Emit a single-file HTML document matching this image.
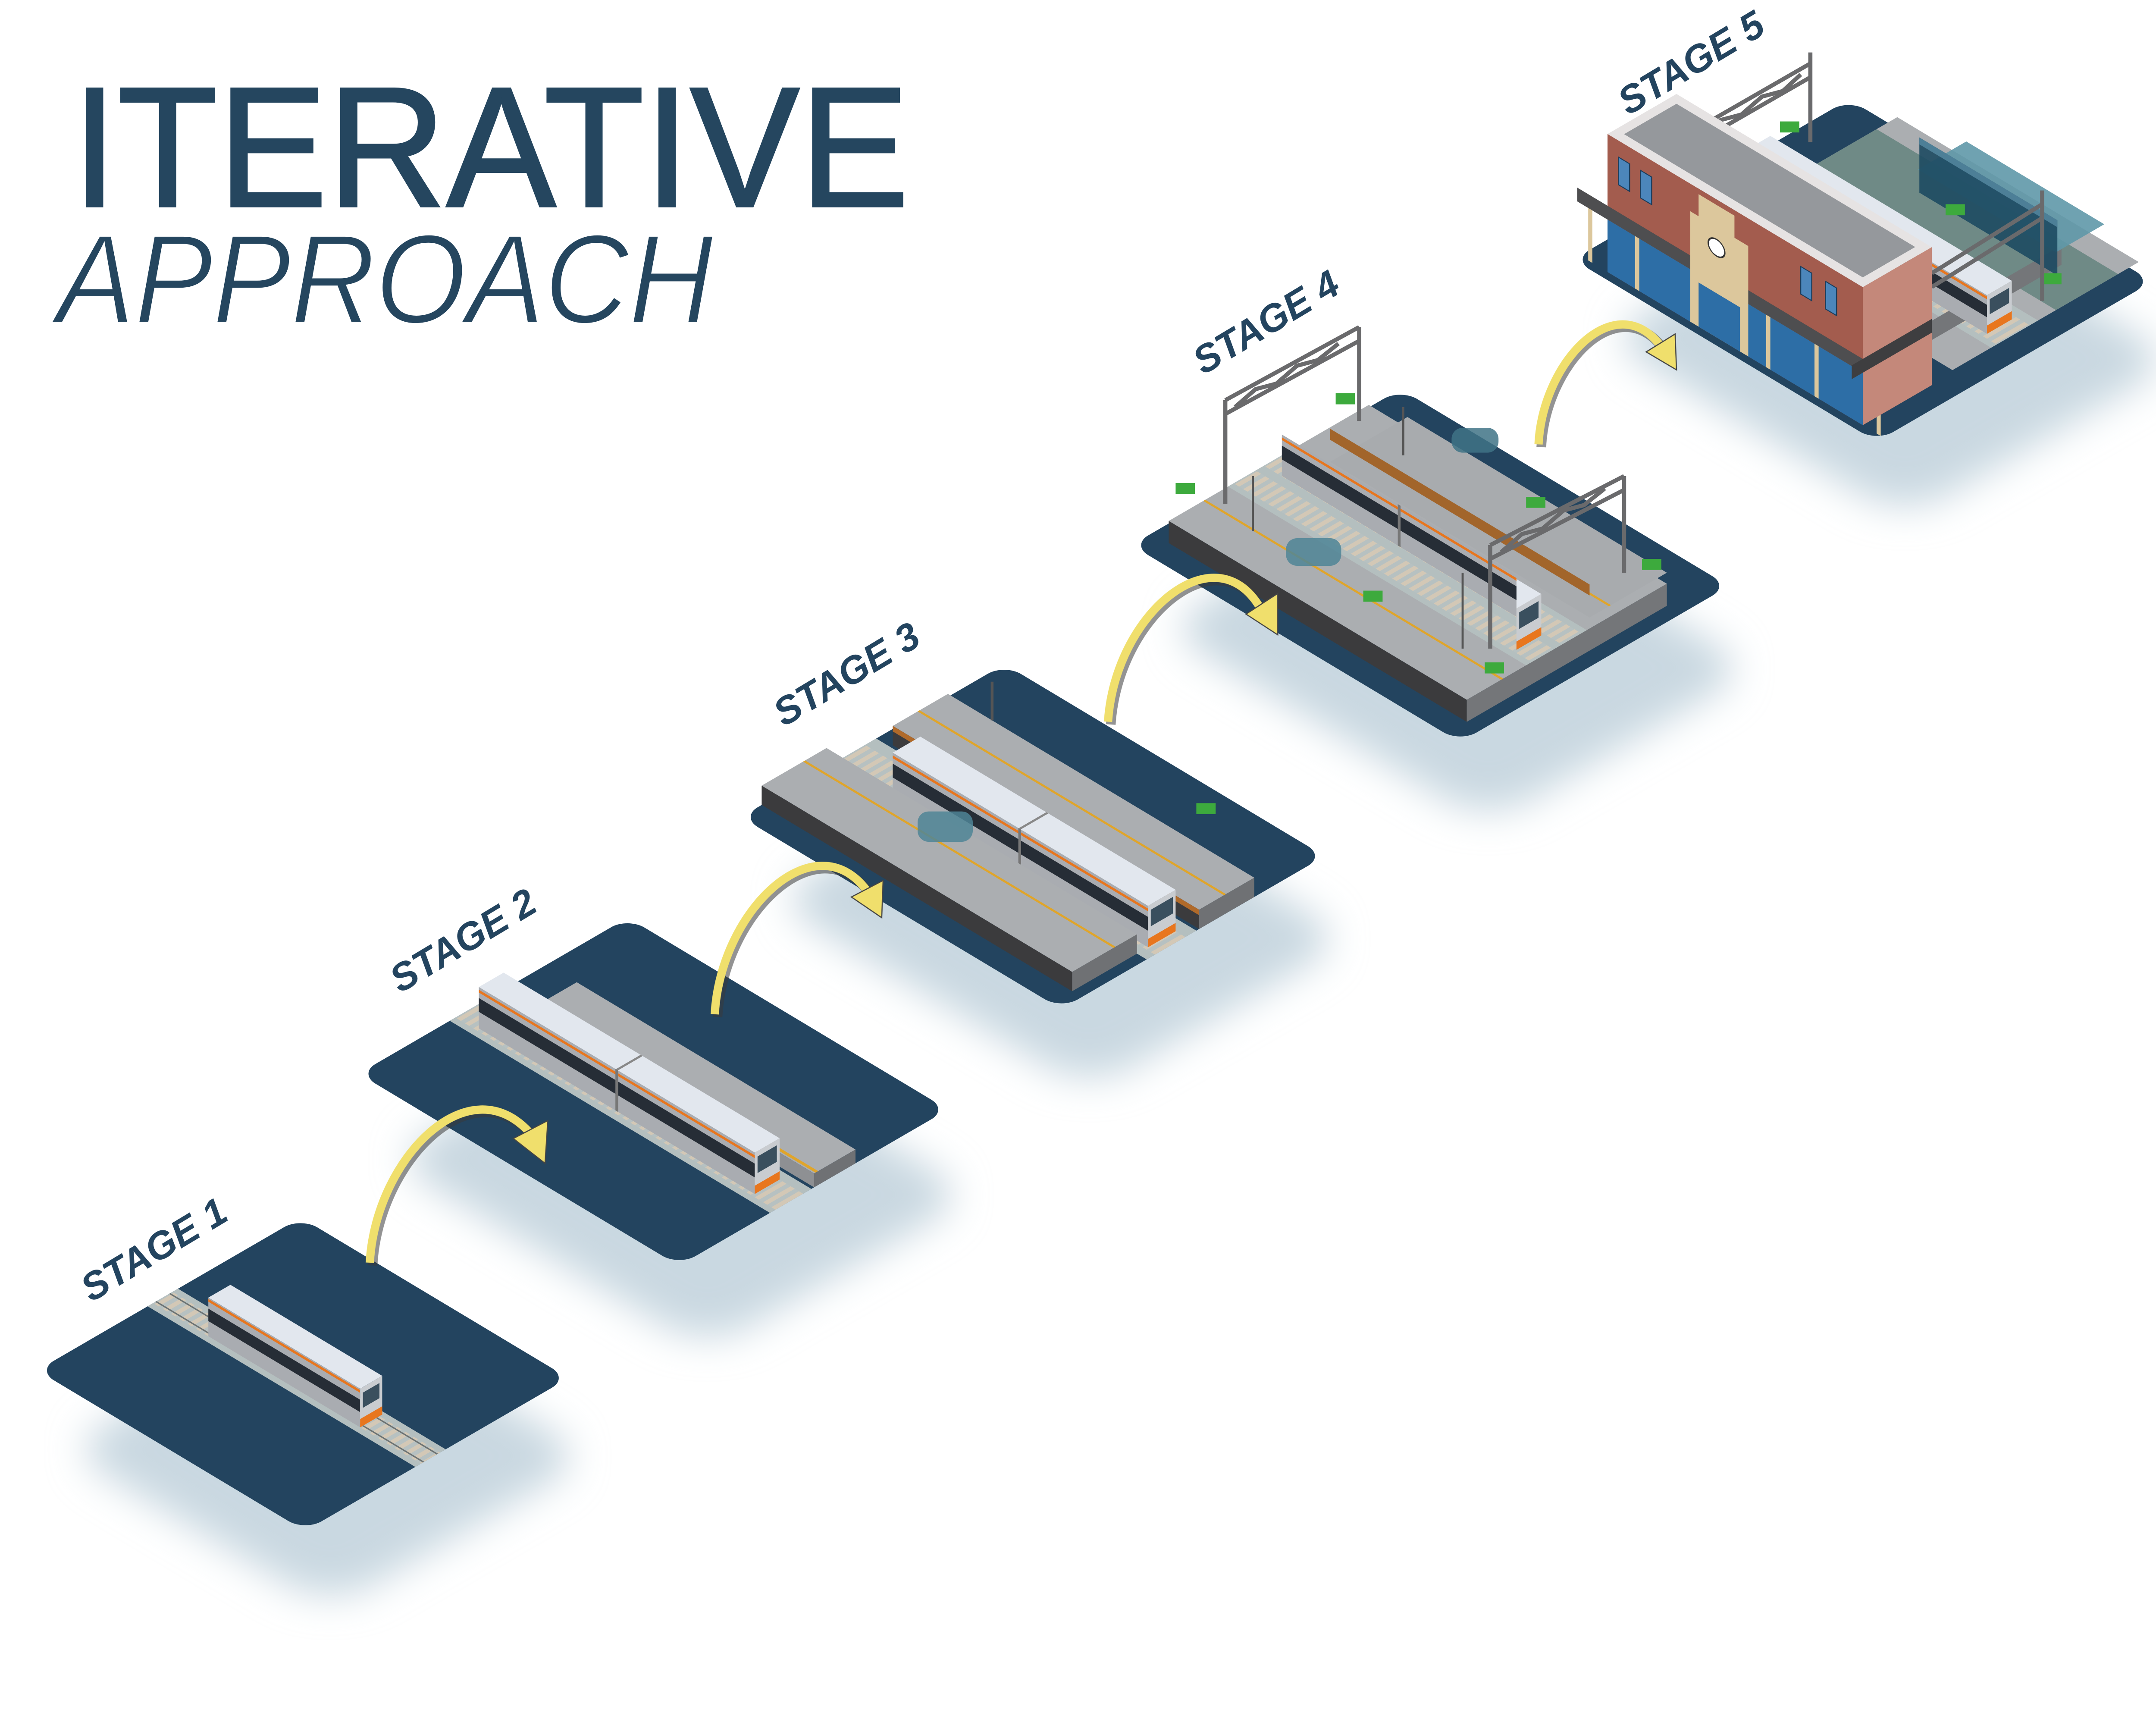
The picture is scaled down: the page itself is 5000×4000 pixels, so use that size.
<!DOCTYPE html>
<html><head><meta charset="utf-8"><style>html,body{margin:0;padding:0;background:#fff}svg{display:block}</style></head>
<body>
<svg xmlns="http://www.w3.org/2000/svg" width="5000" height="4000" viewBox="0 0 1562.5 1250">
<defs>
<filter id="bl" x="-50%" y="-50%" width="200%" height="200%"><feGaussianBlur stdDeviation="14"/></filter>
<pattern id="ties" width="6" height="10" patternUnits="userSpaceOnUse"><rect width="6" height="10" fill="#b7c1c1"/><rect x="1" width="3" height="10" fill="#d3c8b6"/></pattern>
</defs>
<rect width="1562.5" height="1250" fill="#fff"/>

<text x="52" y="149.5" font-family="Liberation Sans, sans-serif" font-size="124" fill="#25465f" textLength="607" lengthAdjust="spacingAndGlyphs" stroke="#25465f" stroke-width="1.5">ITERATIVE</text>
<text x="41" y="234" font-family="Liberation Sans, sans-serif" font-style="italic" font-size="92" fill="#25465f" textLength="476" lengthAdjust="spacingAndGlyphs" stroke="#fff" stroke-width="1.6">APPROACH</text>

<g fill="#c9d8e1" filter="url(#bl)">
<g transform="translate(45,1050) matrix(1,.6,1,-.58,0,0)"><rect width="194" height="191" rx="30"/></g>
<g transform="translate(280,840) matrix(1,.6,1,-.58,0,0)"><rect width="232" height="195" rx="30"/></g>
<g transform="translate(557,652) matrix(1,.6,1,-.58,0,0)"><rect width="232" height="191" rx="30"/></g>
<g transform="translate(840,455) matrix(1,.6,1,-.58,0,0)"><rect width="238" height="195" rx="30"/></g>
<g transform="translate(1160,245) matrix(1,.6,1,-.58,0,0)"><rect width="220" height="200" rx="30"/></g>
</g>

<!-- STAGE 1 -->
<g transform="translate(27,993)">
<g transform="matrix(1,.6,1,-.58,0,0)"><rect width="194" height="191" rx="12" fill="#23445f"/>
<rect x="0" y="80" width="194" height="22" fill="#b4bfbf"/><rect x="0" y="84" width="194" height="14" fill="url(#ties)"/>
<line x1="0" y1="86" x2="194" y2="86" stroke="#6d7373" stroke-width="1"/><line x1="0" y1="96" x2="194" y2="96" stroke="#6d7373" stroke-width="1"/></g>
<g transform="translate(0,-28) matrix(1,.6,1,-.58,0,0)"><rect x="40" y="84" width="110" height="16" fill="#e2e7ee"/></g>
<g transform="translate(124,-24.7) matrix(1,.6,0,1,0,0)"><rect y="-28" width="110" height="28" fill="#a9acb1"/><rect y="-20" width="110" height="9" fill="#262d36"/><rect y="-27" width="110" height="2" fill="#e8761e"/></g>
<g transform="translate(234,41.3) matrix(1,-.58,0,1,0,0)"><rect y="-28" width="16" height="28" fill="#c9ccd0"/><rect x="2" y="-24" width="12" height="11" fill="#3a4f5e"/><rect y="-6" width="16" height="6" fill="#e8761e"/></g>
</g>
<text transform="translate(66,944) rotate(-31)" font-family="Liberation Sans, sans-serif" font-weight="bold" font-style="italic" font-size="28" fill="#23445f">STAGE 1</text>

<!-- STAGE 2 -->
<g transform="translate(260,778)">
<g transform="matrix(1,.6,1,-.58,0,0)"><rect width="232" height="195" rx="12" fill="#23445f"/>
<rect x="0" y="66" width="232" height="30" fill="#b4bfbf"/><rect x="0" y="70" width="232" height="20" fill="url(#ties)"/></g>
<g transform="translate(0,-10) matrix(1,.6,1,-.58,0,0)"><rect x="30" y="98" width="202" height="30" fill="#abaeb1"/><rect x="30" y="99" width="202" height="2" fill="#e0a52a"/></g>
<g transform="translate(128,-38.8) matrix(1,.6,0,1,0,0)"><rect y="-10" width="202" height="10" fill="#8e9093"/></g>
<g transform="translate(330,82.4) matrix(1,-.58,0,1,0,0)"><rect y="-10" width="30" height="10" fill="#6f7174"/></g>
<g transform="translate(0,-30) matrix(1,.6,1,-.58,0,0)"><rect x="15" y="72" width="200" height="18" fill="#e2e7ee"/><line x1="115" y1="72" x2="115" y2="90" stroke="#888" stroke-width="1.5"/></g>
<g transform="translate(87,-32.8) matrix(1,.6,0,1,0,0)"><rect y="-30" width="200" height="30" fill="#a9acb1"/><rect y="-22" width="200" height="10" fill="#262d36"/><rect y="-28" width="200" height="2" fill="#e8761e"/><rect x="99" y="-30" width="2" height="30" fill="#777"/></g>
<g transform="translate(287,87.2) matrix(1,-.58,0,1,0,0)"><rect y="-30" width="18" height="30" fill="#c9ccd0"/><rect x="2" y="-26" width="14" height="12" fill="#3a4f5e"/><rect y="-6" width="18" height="6" fill="#e8761e"/></g>
</g>
<text transform="translate(290,720) rotate(-31)" font-family="Liberation Sans, sans-serif" font-weight="bold" font-style="italic" font-size="28" fill="#23445f">STAGE 2</text>

<!-- STAGE 3 -->
<g transform="translate(537,592)">
<g transform="matrix(1,.6,1,-.58,0,0)"><rect width="232" height="191" rx="12" fill="#23445f"/>
<rect x="0" y="62" width="232" height="36" fill="#b4bfbf"/><rect x="0" y="68" width="232" height="22" fill="url(#ties)"/></g>
<g transform="translate(0,-14) matrix(1,.6,1,-.58,0,0)"><rect x="10" y="100" width="222" height="40" fill="#abaeb1"/><rect x="10" y="118" width="222" height="1.5" fill="#e0a52a"/></g>
<g transform="translate(110,-52) matrix(1,.6,0,1,0,0)"><rect y="-14" width="222" height="14" fill="#3b3b3d"/><rect y="-14" width="222" height="4" fill="#b06a2a"/></g>
<g transform="translate(332,81.2) matrix(1,-.58,0,1,0,0)"><rect y="-14" width="40" height="14" fill="#6f7174"/></g>
<g transform="translate(0,-30) matrix(1,.6,1,-.58,0,0)"><rect x="40" y="70" width="185" height="20" fill="#e2e7ee"/><line x1="132" y1="70" x2="132" y2="90" stroke="#888" stroke-width="1.5"/></g>
<g transform="translate(110,-16.6) matrix(1,.6,0,1,0,0)"><rect y="-30" width="185" height="30" fill="#a9acb1"/><rect y="-22" width="185" height="10" fill="#262d36"/><rect y="-28" width="185" height="2" fill="#e8761e"/><rect x="91" y="-30" width="2" height="30" fill="#777"/></g>
<g transform="translate(295,94.4) matrix(1,-.58,0,1,0,0)"><rect y="-30" width="20" height="30" fill="#c9ccd0"/><rect x="2" y="-26" width="16" height="12" fill="#3a4f5e"/><rect y="-6" width="20" height="6" fill="#e8761e"/></g>
<g transform="translate(0,-14) matrix(1,.6,1,-.58,0,0)"><rect x="0" y="15" width="225" height="47" fill="#abaeb1"/><rect x="0" y="45" width="225" height="1.5" fill="#e0a52a"/></g>
<g transform="translate(15,-8.7) matrix(1,.6,0,1,0,0)"><rect y="-14" width="225" height="14" fill="#3b3b3d"/></g>
<g transform="translate(240,126.3) matrix(1,-.58,0,1,0,0)"><rect y="-14" width="47" height="14" fill="#6f7174"/></g>
<rect x="128" y="-4" width="40" height="22" rx="8" fill="#4f8597" opacity=".85"/>
<rect x="330" y="-10" width="14" height="8" fill="#3daa3d"/>
<line x1="182" y1="-98" x2="182" y2="-70" stroke="#555" stroke-width="2"/>
</g>
<text transform="translate(568,527) rotate(-31)" font-family="Liberation Sans, sans-serif" font-weight="bold" font-style="italic" font-size="28" fill="#23445f">STAGE 3</text>

<!-- STAGE 4 -->
<g transform="translate(820,395)">
<g transform="matrix(1,.6,1,-.58,0,0)"><rect width="238" height="195" rx="12" fill="#23445f"/></g>
<g transform="translate(0,-16) matrix(1,.6,1,-.58,0,0)"><rect x="12" y="15" width="216" height="145" fill="#abaeb1"/>
<rect x="12" y="58" width="216" height="44" fill="#b4bfbf"/><rect x="12" y="62" width="216" height="16" fill="url(#ties)"/><rect x="12" y="84" width="216" height="14" fill="url(#ties)"/>
<rect x="12" y="40" width="216" height="1.5" fill="#e0a52a"/></g>
<g transform="translate(27,-1.5) matrix(1,.6,0,1,0,0)"><rect y="-16" width="216" height="16" fill="#3b3b3d"/></g>
<g transform="translate(243,128.1) matrix(1,-.58,0,1,0,0)"><rect y="-16" width="145" height="16" fill="#747679"/></g>
<g transform="translate(0,-24) matrix(1,.6,1,-.58,0,0)"><rect x="40" y="104" width="188" height="56" fill="#a8abae"/><rect x="40" y="118" width="188" height="1.5" fill="#e0a52a"/></g>
<g transform="translate(144,-60.3) matrix(1,.6,0,1,0,0)"><rect y="-24" width="188" height="8" fill="#a2652b"/></g>
<g transform="translate(0,-46) matrix(1,.6,1,-.58,0,0)"><rect x="45" y="64" width="170" height="18" fill="#e2e7ee"/><line x1="130" y1="64" x2="130" y2="82" stroke="#888" stroke-width="1.5"/></g>
<g transform="translate(109,-34.1) matrix(1,.6,0,1,0,0)"><rect y="-46" width="170" height="30" fill="#a9acb1"/><rect y="-38" width="170" height="10" fill="#262d36"/><rect y="-44" width="170" height="2" fill="#e8761e"/><rect x="84" y="-46" width="2" height="30" fill="#777"/></g>
<g transform="translate(279,91.9) matrix(1,-.58,0,1,0,0)"><rect y="-46" width="18" height="30" fill="#c9ccd0"/><rect x="2" y="-42" width="14" height="12" fill="#3a4f5e"/><rect y="-22" width="18" height="6" fill="#e8761e"/></g>
<rect x="112" y="-5" width="40" height="20" rx="8" fill="#4f8597" opacity=".85"/>
<rect x="232" y="-85" width="34" height="18" rx="8" fill="#3f7386" opacity=".85"/>
<rect x="32" y="-45" width="14" height="8" fill="#3daa3d"/><rect x="168" y="33" width="14" height="8" fill="#3daa3d"/><rect x="256" y="85" width="14" height="8" fill="#3daa3d"/><rect x="370" y="10" width="14" height="8" fill="#3daa3d"/><rect x="148" y="-110" width="14" height="8" fill="#3daa3d"/><rect x="286" y="-35" width="14" height="8" fill="#3daa3d"/>
<g stroke="#6a6a6c" stroke-width="3" fill="none">
<line x1="68" y1="-105" x2="68" y2="-30"/><line x1="165" y1="-158" x2="165" y2="-90"/>
<path d="M68,-105 L165,-158 M68,-95 L165,-148 M75,-100 L90,-113 L105,-117 L120,-130 L135,-134 L150,-146"/>
<line x1="260" y1="0" x2="260" y2="75"/><line x1="357" y1="-50" x2="357" y2="20"/>
<path d="M260,0 L357,-50 M260,10 L357,-40 M268,5 L283,-8 L298,-12 L313,-25 L328,-29 L343,-41"/>
</g>
<g stroke="#555" stroke-width="1.5"><line x1="197" y1="-100" x2="197" y2="-65"/><line x1="240" y1="20" x2="240" y2="75"/><line x1="88" y1="-50" x2="88" y2="-10"/></g>
</g>
<text transform="translate(872,272) rotate(-31)" font-family="Liberation Sans, sans-serif" font-weight="bold" font-style="italic" font-size="28" fill="#23445f">STAGE 4</text>

<!-- STAGE 5 -->
<g transform="translate(1140,188)">
<g transform="matrix(1,.6,1,-.58,0,0)"><rect width="220" height="200" rx="12" fill="#23445f"/></g>
<g transform="translate(0,-14) matrix(1,.6,1,-.58,0,0)"><rect x="40" y="60" width="175" height="135" fill="#abaeb1"/>
<rect x="40" y="88" width="175" height="34" fill="#b4bfbf"/><rect x="40" y="92" width="175" height="24" fill="url(#ties)"/>
<rect x="40" y="135" width="175" height="45" fill="#6f8a86"/></g>
<g transform="translate(219,82.2) matrix(1,-.58,0,1,0,0)"><rect y="-14" width="135" height="14" fill="#747679"/></g>
<g transform="translate(0,-50) matrix(1,.6,1,-.58,0,0)"><rect x="110" y="140" width="100" height="35" fill="#5f98a8" opacity=".9"/></g>
<g transform="translate(251,-38.4) matrix(1,.6,0,1,0,0)"><rect y="-50" width="100" height="40" fill="#1d4a62" opacity=".9"/><rect y="-50" width="100" height="5" fill="#4d7f97"/></g>
<g transform="translate(0,-42) matrix(1,.6,1,-.58,0,0)"><rect x="30" y="95" width="175" height="18" fill="#e2e7ee"/></g>
<g transform="translate(125,-37.1) matrix(1,.6,0,1,0,0)"><rect y="-42" width="175" height="28" fill="#a9acb1"/><rect y="-35" width="175" height="9" fill="#262d36"/><rect y="-41" width="175" height="2" fill="#e8761e"/></g>
<g transform="translate(300,67.9) matrix(1,-.58,0,1,0,0)"><rect y="-42" width="18" height="28" fill="#c9ccd0"/><rect x="2" y="-38" width="14" height="11" fill="#3a4f5e"/><rect y="-20" width="18" height="6" fill="#e8761e"/></g>
<rect x="340" y="10" width="14" height="8" fill="#3daa3d"/><rect x="270" y="-40" width="14" height="8" fill="#3daa3d"/><rect x="150" y="-100" width="14" height="8" fill="#3daa3d"/>
<g stroke="#6a6a6c" stroke-width="3" fill="none"><line x1="172" y1="-150" x2="172" y2="-85"/><path d="M85,-92 L172,-142 M85,-82 L172,-132 M92,-88 L107,-101 L122,-105 L137,-118 L152,-122 L165,-134"/>
<line x1="340" y1="-50" x2="340" y2="30"/><path d="M260,10 L340,-40 M260,20 L340,-30"/></g>
<g transform="translate(0,-100) matrix(1,.6,1,-.58,0,0)"><rect x="20" y="5" width="185" height="50" fill="#e6e3e3"/><rect x="26" y="11" width="173" height="38" fill="#95989c"/></g>
<g transform="translate(25,9.1) matrix(1,.6,0,1,0,0)"><rect y="-100" width="185" height="100" fill="#a35c4e"/>
<rect x="-22" y="-48" width="224" height="10" fill="#4e4e50"/>
<rect x="0" y="-38" width="185" height="38" fill="#2d6ea6"/>
<g fill="#4c86bb" stroke="#1c3d5c" stroke-width=".8"><rect x="8" y="-88" width="8" height="20"/><rect x="24" y="-88" width="8" height="20"/><rect x="140" y="-88" width="8" height="20"/><rect x="158" y="-88" width="8" height="20"/></g>
<rect x="60" y="-80" width="42" height="80" fill="#dcc79c"/><rect x="66" y="-96" width="26" height="20" fill="#dcc79c"/>
<circle cx="79" cy="-65" r="6" fill="#fff" stroke="#333" stroke-width="1"/>
<rect x="66" y="-32" width="30" height="32" fill="#2d6ea6"/>
<g fill="#dcc79c"><rect x="-14" y="-38" width="3" height="38"/><rect x="20" y="-38" width="3" height="38"/><rect x="115" y="-38" width="3" height="38"/><rect x="150" y="-38" width="3" height="38"/><rect x="195" y="-38" width="3" height="38"/></g></g>
<g transform="translate(210,120.1) matrix(1,-.58,0,1,0,0)"><rect y="-100" width="50" height="100" fill="#c4887a"/><rect x="-8" y="-48" width="58" height="10" fill="#3e3e40"/></g>
</g>
<text transform="translate(1180,84) rotate(-31)" font-family="Liberation Sans, sans-serif" font-weight="bold" font-style="italic" font-size="28" fill="#23445f">STAGE 5</text>

<g fill="none">
<g stroke="#3a3a3a" stroke-width="7" opacity=".55" transform="translate(2,2)">
<path d="M268,915 C272,840 340,770 385,822"/><path d="M518,735 C522,660 590,595 628,645"/><path d="M803,523 C808,445 880,385 913,440"/><path d="M1115,322 C1118,262 1170,208 1203,250"/></g>
<g stroke="#f0df6c" stroke-width="6">
<path d="M268,915 C272,840 340,770 385,822"/><path d="M518,735 C522,660 590,595 628,645"/><path d="M803,523 C808,445 880,385 913,440"/><path d="M1115,322 C1118,262 1170,208 1203,250"/></g>
</g>
<g fill="#f0df6c" stroke="#444" stroke-width=".8">
<polygon points="372,825 397,812 395,843"/>
<polygon points="617,650 640,638 639,665"/>
<polygon points="903,445 926,430 926,460"/>
<polygon points="1193,255 1214,242 1215,268"/>
</g>
</svg>
</body></html>
